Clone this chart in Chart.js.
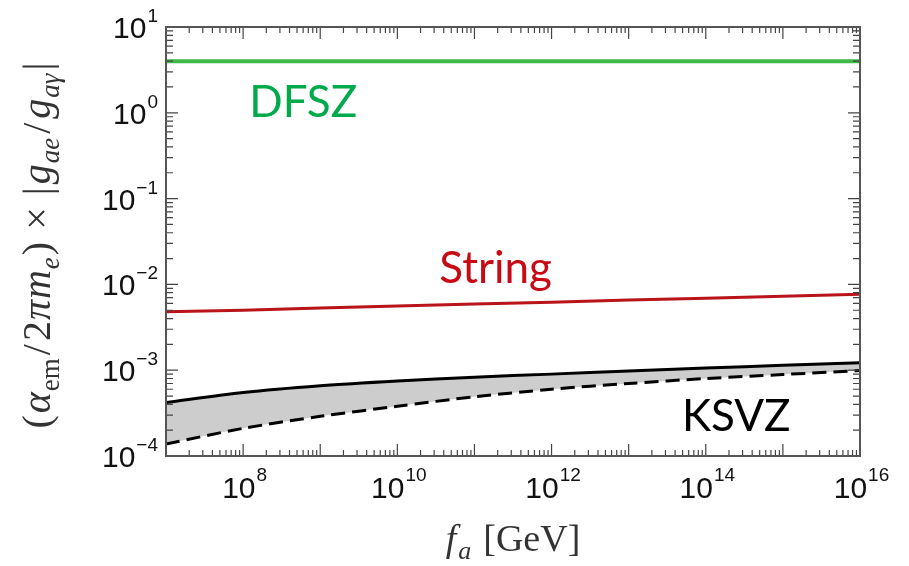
<!DOCTYPE html>
<html>
<head>
<meta charset="utf-8">
<script src="https://cdn.jsdelivr.net/npm/chart.js@4.4.1/dist/chart.umd.min.js"></script>
<style>
  html, body { margin: 0; padding: 0; background: #fff; }
  #wrap { width: 909px; height: 566px; }
</style>
</head>
<body>
<div id="wrap"><canvas id="chart" width="909" height="566"></canvas></div>
<script>
// f_a values (GeV), one per decade
const fa = [1e7, 1e8, 1e9, 1e10, 1e11, 1e12, 1e13, 1e14, 1e15, 1e16];

// curves
const dfsz = [4.0, 4.0, 4.0, 4.0, 4.0, 4.0, 4.0, 4.0, 4.0, 4.0];
const stringCurve = [4.8e-3, 5.0e-3, 5.3e-3, 5.6e-3, 5.9e-3, 6.2e-3, 6.6e-3, 6.9e-3, 7.3e-3, 7.7e-3];
const ksvzUpper = [4.2e-4, 5.5e-4, 6.6e-4, 7.5e-4, 8.3e-4, 9.0e-4, 9.8e-4, 1.06e-3, 1.14e-3, 1.22e-3];
const ksvzLower = [1.38e-4, 2.1e-4, 2.9e-4, 3.8e-4, 4.9e-4, 6.0e-4, 7.0e-4, 8.0e-4, 8.9e-4, 9.9e-4];

// tick labels (exponents of 10)
const xTickExp = [8, 10, 12, 14, 16];
const yTickExp = [-4, -3, -2, -1, 0, 1];

// curve labels: text, anchor (data coords), colour
const curveLabels = [
  { text: 'DFSZ', x: 1.2e8, y: 0.89, color: 'rgb(0,170,75)' },
  { text: 'String', x: 3.5e10, y: 1.05e-2, color: 'rgb(200,10,20)' },
  { text: 'KSVZ', x: 4.9e13, y: 1.94e-4, color: '#000' }
];

const pts = ys => fa.map((x, i) => ({ x: x, y: ys[i] }));
const supMinus = n => (n < 0 ? '\u2212' + (-n) : String(n));

// draws a run of [text, style, sub, gapAfter] pieces starting at (x, y)
function drawRuns(ctx, runs, x, y, size, measureOnly) {
  let w = 0;
  runs.forEach(([t, style, sub, gap]) => {
    const fs = sub ? Math.round(size * 0.68) : size;
    ctx.font = `${style} ${fs}px "Liberation Serif", "DejaVu Serif", serif`;
    if (!measureOnly) ctx.fillText(t, x + w, y + (sub ? size * 0.22 : 0));
    w += ctx.measureText(t).width + (gap || 0);
  });
  return w;
}

const decorPlugin = {
  id: 'decor',
  afterDraw(chart) {
    const { ctx, chartArea: a, scales: { x, y } } = chart;
    ctx.save();

    // tick marks on all four sides, pointing inward
    ctx.strokeStyle = '#444';
    ctx.lineWidth = 1.2;
    ctx.beginPath();
    for (let e = 7; e <= 16; e++) {
      for (let m = 1; m <= 9; m++) {
        const v = m * Math.pow(10, e);
        if (v > 1e16) break;
        const px = x.getPixelForValue(v);
        const len = m === 1 ? 12 : 6;
        ctx.moveTo(px, a.bottom); ctx.lineTo(px, a.bottom - len);
        ctx.moveTo(px, a.top); ctx.lineTo(px, a.top + len);
      }
    }
    for (let e = -4; e <= 1; e++) {
      for (let m = 1; m <= 9; m++) {
        const v = m * Math.pow(10, e);
        if (v > 10) break;
        const py = y.getPixelForValue(v);
        const len = m === 1 ? 12 : 7;
        ctx.moveTo(a.left, py); ctx.lineTo(a.left + len, py);
        ctx.moveTo(a.right, py); ctx.lineTo(a.right - len, py);
      }
    }
    ctx.stroke();

    // frame
    ctx.strokeStyle = '#555';
    ctx.lineWidth = 2;
    ctx.strokeRect(a.left, a.top, a.right - a.left, a.bottom - a.top);

    // tick labels 10^n
    ctx.fillStyle = '#111';
    ctx.textBaseline = 'alphabetic';
    const big = '30px "Liberation Sans", Arial, sans-serif';
    const small = '19px "Liberation Sans", Arial, sans-serif';
    xTickExp.forEach(e => {
      const px = x.getPixelForValue(Math.pow(10, e));
      ctx.font = big; const w1 = ctx.measureText('10').width;
      ctx.font = small; const w2 = ctx.measureText(supMinus(e)).width;
      const x0 = px - (w1 + w2) / 2 + 1;
      ctx.font = big; ctx.fillText('10', x0, a.bottom + 42);
      ctx.font = small; ctx.fillText(supMinus(e), x0 + w1 + 1, a.bottom + 25);
    });
    yTickExp.forEach(e => {
      const py = y.getPixelForValue(Math.pow(10, e));
      ctx.font = small; const w2 = ctx.measureText(supMinus(e)).width;
      ctx.font = big; const w1 = ctx.measureText('10').width;
      const xr = a.left - 8;
      ctx.font = big; ctx.fillText('10', xr - w2 - w1 - 1, py + 11);
      ctx.font = small; ctx.fillText(supMinus(e), xr - w2, py - 5);
    });

    // curve labels
    ctx.font = '44px Lato, "Open Sans", sans-serif';
    curveLabels.forEach(l => {
      ctx.fillStyle = l.color;
      ctx.fillText(l.text, x.getPixelForValue(l.x), y.getPixelForValue(l.y));
    });

    // x title: f_a [GeV]
    ctx.fillStyle = '#333';
    const xRuns = [['f', 'italic', false, 2], ['a', 'italic', true, 12], ['[GeV]', 'normal', false]];
    const xw = drawRuns(ctx, xRuns, 0, 0, 38, true);
    drawRuns(ctx, xRuns, (a.left + a.right) / 2 - xw / 2, a.bottom + 95, 38, false);

    // y title: (α_em / 2π m_e) × |g_ae / g_aγ|
    const yRuns = [
      ['(', 'normal', false, 2], ['\u03b1', 'italic', false, 1], ['em', 'normal', true, 3],
      ['/', 'normal', false, 3], ['2', 'normal', false, 1], ['\u03c0', 'italic', false, 1], ['m', 'italic', false, 1],
      ['e', 'italic', true, 2], [')', 'normal', false, 12], ['\u00d7', 'normal', false, 12],
      ['|', 'normal', false, 3], ['g', 'italic', false, 1], ['ae', 'italic', true, 4],
      ['/', 'normal', false, 4], ['g', 'italic', false, 1], ['a\u03b3', 'italic', true, 3],
      ['|', 'normal', false]
    ];
    const yw = drawRuns(ctx, yRuns, 0, 0, 40, true);
    ctx.translate(50, (a.top + a.bottom) / 2 + 4);
    ctx.rotate(-Math.PI / 2);
    drawRuns(ctx, yRuns, -yw / 2, 0, 40, false);

    ctx.restore();
  }
};

new Chart(document.getElementById('chart'), {
  type: 'line',
  data: {
    datasets: [
      {
        label: 'DFSZ',
        data: pts(dfsz),
        borderColor: 'rgb(60,185,70)',
        borderWidth: 4,
        pointRadius: 0,
        fill: false
      },
      {
        label: 'String',
        data: pts(stringCurve),
        borderColor: 'rgb(185,20,25)',
        borderWidth: 3,
        pointRadius: 0,
        fill: false
      },
      {
        label: 'KSVZ upper',
        data: pts(ksvzUpper),
        borderColor: '#000',
        borderWidth: 3,
        pointRadius: 0,
        tension: 0.3,
        fill: false
      },
      {
        label: 'KSVZ lower',
        data: pts(ksvzLower),
        borderColor: '#000',
        borderWidth: 3,
        borderDash: [14, 7],
        pointRadius: 0,
        tension: 0.3,
        fill: '-1',
        backgroundColor: 'rgb(205,205,205)'
      }
    ]
  },
  options: {
    responsive: false,
    animation: false,
    layout: { padding: { left: 166, right: 49, top: 27, bottom: 110 } },
    plugins: {
      legend: { display: false },
      tooltip: { enabled: false },
      filler: { propagate: false }
    },
    scales: {
      x: {
        type: 'logarithmic',
        min: 1e7,
        max: 1e16,
        grid: { display: false, drawTicks: false },
        border: { display: false },
        ticks: { display: false }
      },
      y: {
        type: 'logarithmic',
        min: 1e-4,
        max: 10,
        grid: { display: false, drawTicks: false },
        border: { display: false },
        ticks: { display: false }
      }
    }
  },
  plugins: [decorPlugin]
});
</script>
</body>
</html>
